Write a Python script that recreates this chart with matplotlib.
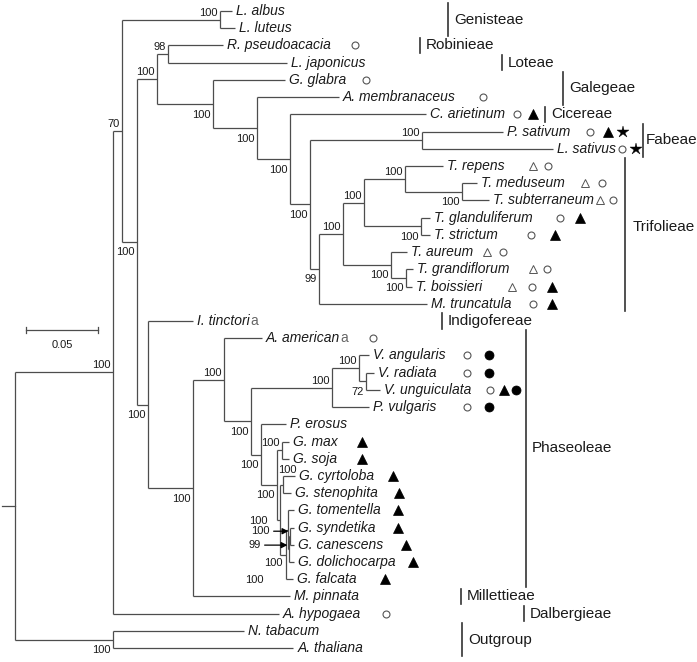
import matplotlib
matplotlib.use('Agg')
import matplotlib.pyplot as plt

plt.rcParams['font.family'] = ['Liberation Sans', 'DejaVu Sans']

# taxa, top to bottom
TAXA = ['L. albus', 'L. luteus', 'R. pseudoacacia', 'L. japonicus', 'G. glabra',
        'A. membranaceus', 'C. arietinum', 'P. sativum', 'L. sativus', 'T. repens',
        'T. meduseum', 'T. subterraneum', 'T. glanduliferum', 'T. strictum', 'T. aureum',
        'T. grandiflorum', 'T. boissieri', 'M. truncatula', 'I. tinctoria', 'A. americana',
        'V. angularis', 'V. radiata', 'V. unguiculata', 'P. vulgaris', 'P. erosus',
        'G. max', 'G. soja', 'G. cyrtoloba', 'G. stenophita', 'G. tomentella',
        'G. syndetika', 'G. canescens', 'G. dolichocarpa', 'G. falcata', 'M. pinnata',
        'A. hypogaea', 'N. tabacum', 'A. thaliana']

# distance from root to each tip
TIP = [0.1507, 0.1528, 0.1444, 0.1889, 0.1875,
       0.2250, 0.2854, 0.3389, 0.3736, 0.2972,
       0.3208, 0.3292, 0.2882, 0.2882, 0.2722,
       0.2764, 0.2757, 0.2861, 0.1236, 0.1715,
       0.2458, 0.2493, 0.2535, 0.2458, 0.1882,
       0.1903, 0.1903, 0.1944, 0.1917, 0.1938,
       0.1938, 0.1938, 0.1938, 0.1931, 0.1910,
       0.1833, 0.1590, 0.1931]

# (node, depth, bootstrap, children)
TREE = ('root', 0.0, None, [
    ('n113', 0.0681, 100, [
        ('n122', 0.0743, 70, [
            ('n220', 0.1424, 100, ['L. albus', 'L. luteus']),
            ('n137', 0.0847, 100, [
                ('n157', 0.0986, 100, [
                    ('n168', 0.1063, 98, ['R. pseudoacacia', 'L. japonicus']),
                    ('n213', 0.1375, 100, ['G. glabra',
                        ('n257', 0.1681, 100, ['A. membranaceus',
                            ('n290', 0.1910, 100, ['C. arietinum',
                                ('n310', 0.2049, 100, [
                                    ('n422', 0.2826, 100, ['P. sativum', 'L. sativus']),
                                    ('n319', 0.2111, 99, [
                                        ('n343', 0.2278, 100, [
                                            ('n364', 0.2424, 100, [
                                                ('n405', 0.2708, 100, ['T. repens',
                                                    ('n462', 0.3104, 100, ['T. meduseum', 'T. subterraneum'])]),
                                                ('n421', 0.2819, 100, ['T. glanduliferum', 'T. strictum'])]),
                                            ('n391', 0.2611, 100, ['T. aureum',
                                                ('n406', 0.2715, 100, ['T. grandiflorum', 'T. boissieri'])])]),
                                        'M. truncatula'])])])])])]),
                ('n148', 0.0924, 100, ['I. tinctoria',
                    ('n193', 0.1236, 100, [
                        ('n224', 0.1451, 100, ['A. americana',
                            ('n251', 0.1639, 100, [
                                ('n332', 0.2201, 100, [
                                    ('n359', 0.2389, 100, ['V. angularis',
                                        ('n366', 0.2438, 72, ['V. radiata', 'V. unguiculata'])]),
                                    'P. vulgaris']),
                                ('n261', 0.1708, 100, ['P. erosus',
                                    ('g1', 0.1819, 100, [
                                        ('g2', 0.1854, 100, ['G. max', 'G. soja']),
                                        ('g3', 0.1840, 100, [
                                            ('g4', 0.1861, 100, ['G. cyrtoloba', 'G. stenophita']),
                                            ('g5', 0.1882, 100, [
                                                ('g6', 0.1896, 100, ['G. tomentella',
                                                    ('g7', 0.1906, 99, [
                                                        ('g8', 0.1913, 100, ['G. syndetika', 'G. canescens']),
                                                        'G. dolichocarpa'])]),
                                                'G. falcata'])])])])])]),
                        'M. pinnata'])])])]),
        'A. hypogaea']),
    ('nout', 0.0681, 100, ['N. tabacum', 'A. thaliana'])])

# genome / trait markers: o open circle, d open triangle, T filled triangle,
# C filled circle, S star
MARKS = {'R. pseudoacacia': 'o', 'G. glabra': 'o', 'A. membranaceus': 'o',
         'C. arietinum': 'oT', 'P. sativum': 'oTS', 'L. sativus': 'oS',
         'T. repens': 'do', 'T. meduseum': 'do', 'T. subterraneum': 'do',
         'T. glanduliferum': 'oT', 'T. strictum': 'oT', 'T. aureum': 'do',
         'T. grandiflorum': 'do', 'T. boissieri': 'doT', 'M. truncatula': 'oT',
         'A. americana': 'o', 'V. angularis': 'oC', 'V. radiata': 'oC',
         'V. unguiculata': 'oTC', 'P. vulgaris': 'oC',
         'G. max': 'T', 'G. soja': 'T', 'G. cyrtoloba': 'T', 'G. stenophita': 'T',
         'G. tomentella': 'T', 'G. syndetika': 'T', 'G. canescens': 'T',
         'G. dolichocarpa': 'T', 'G. falcata': 'T', 'A. hypogaea': 'o'}

# tribes: name, first taxon, last taxon
TRIBES = [('Genisteae', 'L. albus', 'L. luteus'),
          ('Robinieae', 'R. pseudoacacia', 'R. pseudoacacia'),
          ('Loteae', 'L. japonicus', 'L. japonicus'),
          ('Galegeae', 'G. glabra', 'A. membranaceus'),
          ('Cicereae', 'C. arietinum', 'C. arietinum'),
          ('Fabeae', 'P. sativum', 'L. sativus'),
          ('Trifolieae', 'T. repens', 'M. truncatula'),
          ('Indigofereae', 'I. tinctoria', 'I. tinctoria'),
          ('Phaseoleae', 'A. americana', 'G. falcata'),
          ('Millettieae', 'M. pinnata', 'M. pinnata'),
          ('Dalbergieae', 'A. hypogaea', 'A. hypogaea'),
          ('Outgroup', 'N. tabacum', 'A. thaliana')]

SCALE = 0.05

# ---------- layout (pixels) ----------
PX_X = 1440.0      # pixels per unit branch length
PX_Y = 17.22       # pixels per taxon row
ROOT_PX, TOP_PX = 15, 11
W, H = 697, 662

# where each bootstrap value sits: 'a' above / 'b' below, or (dx, dy) px
LABEL_AT = {'n220': 'a', 'n168': 'a', 'n157': 'a', 'n122': 'a', 'n113': 'a',
            'n422': 'a', 'n343': 'a', 'n364': 'a', 'n405': 'a', 'n224': 'a',
            'n332': 'a', 'n359': 'a', 'g2': 'a',
            'g4': (14, -14.5), 'g3': (-12, 1), 'g5': (-3, 8), 'g6': (-24, 50)}
ARROWS = {'g8': (-19, -5), 'g7': (-27, -4)}

MARK_X = {'R. pseudoacacia': [355], 'G. glabra': [366], 'A. membranaceus': [483],
          'C. arietinum': [517, 533], 'P. sativum': [590, 608, 623],
          'L. sativus': [622, 636], 'T. repens': [533, 548],
          'T. meduseum': [585, 602], 'T. subterraneum': [600, 613],
          'T. glanduliferum': [560, 580], 'T. strictum': [531, 555],
          'T. aureum': [487, 503], 'T. grandiflorum': [533, 547],
          'T. boissieri': [512, 532, 552], 'M. truncatula': [533, 552],
          'A. americana': [373], 'V. angularis': [467, 489], 'V. radiata': [467, 489],
          'V. unguiculata': [490, 504, 516], 'P. vulgaris': [467, 489],
          'G. max': [362], 'G. soja': [362], 'G. cyrtoloba': [393],
          'G. stenophita': [399], 'G. tomentella': [398], 'G. syndetika': [398],
          'G. canescens': [406], 'G. dolichocarpa': [413], 'G. falcata': [385],
          'A. hypogaea': [386]}

TRIBE_X = {'Genisteae': 448, 'Robinieae': 420, 'Loteae': 502, 'Galegeae': 563,
           'Cicereae': 545, 'Fabeae': 643, 'Trifolieae': 625, 'Indigofereae': 442,
           'Phaseoleae': 526, 'Millettieae': 461, 'Dalbergieae': 524, 'Outgroup': 462}
TRIBE_DY = {'Trifolieae': -8, 'Phaseoleae': -11, 'Fabeae': 0}
TRIBE_GAP = {'Fabeae': 3, 'Trifolieae': 8}

LINE = '#4d4d4d'
TXT = '#1a1a1a'
PT = 0.72  # points per pixel at 100 dpi


def dx(px):
    return (px - ROOT_PX) / PX_X


fig = plt.figure(figsize=(W / 100, H / 100), dpi=100)
ax = fig.add_axes([0, 0, 1, 1])
ax.set_xlim(dx(0), dx(W))
ax.set_ylim((H - TOP_PX) / PX_Y, -TOP_PX / PX_Y)
ax.axis('off')

row = {t: i for i, t in enumerate(TAXA)}
tip = dict(zip(TAXA, TIP))


def draw(node):
    if isinstance(node, str):
        return tip[node], row[node]
    name, depth, boot, kids = node
    pos = [draw(k) for k in kids]
    ys = [p[1] for p in pos]
    y = (ys[0] + ys[-1]) / 2
    ax.plot([depth, depth], [ys[0], ys[-1]], color=LINE, lw=0.9, solid_capstyle='butt')
    for cx, cy in pos:
        ax.plot([depth, cx], [cy, cy], color=LINE, lw=0.9, solid_capstyle='butt')
    if boot is not None:
        where = LABEL_AT.get(name, 'b')
        if name in ARROWS:
            ox, oy = ARROWS[name]
            yl = y + oy / PX_Y
            ax.annotate(str(boot), xy=(depth - 2 / PX_X, yl),
                        xytext=(ox * PT, 0), textcoords='offset points',
                        ha='right', va='center', fontsize=8, color=TXT,
                        arrowprops=dict(arrowstyle='-|>', color='black', lw=0.9,
                                        mutation_scale=9, shrinkA=1, shrinkB=0))
        else:
            if where == 'a':
                ox, oy = -2.5, -7
            elif where == 'b':
                ox, oy = -2.5, 10.5
            else:
                ox, oy = where
            ax.annotate(str(boot), xy=(depth, y), xytext=(ox * PT, -oy * PT),
                        textcoords='offset points', ha='right', va='center',
                        fontsize=8, color=TXT)
    return depth, y


root_x, root_y = draw(TREE)
ax.plot([dx(2), root_x], [root_y, root_y], color=LINE, lw=0.9)

# taxon names
for t in TAXA:
    i = row[t]
    upright = t in ('I. tinctoria', 'A. americana')
    txt = t[:-1] if upright else t
    a = ax.annotate(txt, xy=(tip[t], i), xytext=(3, 0), textcoords='offset points',
                    ha='left', va='center', fontsize=10, style='italic', color=TXT)
    if upright:
        ax.annotate(t[-1], xy=(1, 0.5), xycoords=a, ha='left', va='center',
                    fontsize=10, color='#666666')

# markers
STY = {'o': dict(marker='o', ms=5, mfc='white', mec='#555555', mew=0.8),
       'd': dict(marker='^', ms=6, mfc='white', mec='#555555', mew=0.7),
       'T': dict(marker='^', ms=7, mfc='black', mec='black', mew=0.5),
       'C': dict(marker='o', ms=6.5, mfc='black', mec='black', mew=0.5),
       'S': dict(marker='*', ms=9, mfc='black', mec='black', mew=0.3)}
for t, codes in MARKS.items():
    for c, px in zip(codes, MARK_X[t]):
        ax.plot(dx(px), row[t], ls='none', **STY[c])

# tribe bars
for name, first, last in TRIBES:
    xb = dx(TRIBE_X[name])
    y0, y1 = row[first] - 0.45, row[last] + 0.45
    ax.plot([xb, xb], [y0, y1], color='#333333', lw=1.2)
    ym = (y0 + y1) / 2 + TRIBE_DY.get(name, 0) / PX_Y
    ax.text(xb + TRIBE_GAP.get(name, 6) / PX_X, ym, name, ha='left', va='center',
            fontsize=11, color=TXT)

# scale bar
sx = dx(26)
sy = (330 - TOP_PX) / PX_Y
ax.plot([sx, sx + SCALE], [sy, sy], color=LINE, lw=0.9)
for xx in (sx, sx + SCALE):
    ax.plot([xx, xx], [sy - 3 / PX_Y, sy + 3 / PX_Y], color=LINE, lw=0.9)
ax.text(sx + SCALE / 2, sy + 15 / PX_Y, f'{SCALE}', ha='center', va='center',
        fontsize=8, color=TXT)

fig.savefig('out.png', dpi=100)
